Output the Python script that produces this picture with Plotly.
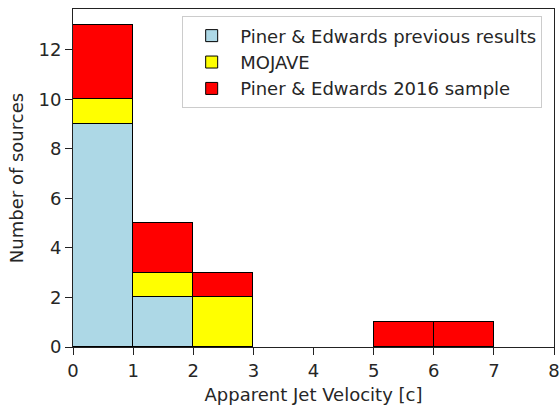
import plotly.graph_objects as go

bin_centers = [0.5, 1.5, 2.5, 3.5, 4.5, 5.5, 6.5]
prev_results = [9, 2, 0, 0, 0, 0, 0]
mojave = [1, 1, 2, 0, 0, 0, 0]
sample_2016 = [3, 2, 1, 0, 0, 1, 1]
names = ["Piner & Edwards previous results", "MOJAVE", "Piner & Edwards 2016 sample"]
colors = ["#add8e6", "#ffff00", "#ff0000"]
x_ticks = [0, 1, 2, 3, 4, 5, 6, 7, 8]
y_ticks = [0, 2, 4, 6, 8, 10, 12]

fig = go.Figure()
for vals, name, col in zip([prev_results, mojave, sample_2016], names, colors):
    xs = [c for c, v in zip(bin_centers, vals) if v > 0]
    ys = [v for v in vals if v > 0]
    fig.add_trace(go.Bar(x=xs, y=ys, width=1, name=name,
                         marker=dict(color=col, line=dict(color="black", width=1))))

font = "DejaVu Sans, sans-serif"
fs = 18
axis_common = dict(showline=True, linecolor="#222", linewidth=1, mirror=True,
                   ticks="outside", ticklen=7, tickcolor="#222", showgrid=False,
                   zeroline=False, automargin=False,
                   tickfont=dict(size=fs, color="#262626", family=font))
fig.update_layout(
    width=560, height=405,
    margin=dict(l=73, r=6, t=9, b=58),
    barmode="stack", bargap=0,
    plot_bgcolor="white", paper_bgcolor="white",
    font=dict(family=font, color="#262626"),
    xaxis=dict(range=[0, 8], tickvals=x_ticks,
               title=dict(text="Apparent Jet Velocity [c]", font=dict(size=fs), standoff=8),
               **axis_common),
    yaxis=dict(range=[0, 13.65], tickvals=y_ticks,
               title=dict(text="Number of sources", font=dict(size=fs), standoff=10),
               **axis_common),
    legend=dict(x=0.227, y=0.978, xanchor="left", yanchor="top", traceorder="normal",
                itemwidth=47,
                bgcolor="rgba(255,255,255,0.8)", bordercolor="#ccc", borderwidth=1,
                font=dict(size=fs, family=font, color="#262626")),
    showlegend=True,
)
fig.write_html("out.html")
